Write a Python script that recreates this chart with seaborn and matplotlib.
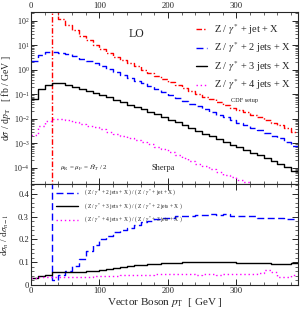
import numpy as np
import pandas as pd
import matplotlib
matplotlib.use("Agg")
import matplotlib.pyplot as plt
from matplotlib.ticker import MultipleLocator, LogLocator, NullFormatter
import seaborn as sns

# =========================
# DATA (10 GeV bins, 0 - 390 GeV)
# =========================

bin_edges = np.arange(0, 400, 10)

# d sigma / d pT  [fb / GeV]
z_1jet = [0, 0, 0, 240, 120, 70.0, 41.7, 25.1, 15.8, 10.5,
          7.24, 5.01, 3.39, 2.51, 1.86, 1.38, 1.02, 0.759, 0.562, 0.427,
          0.316, 0.240, 0.182, 0.135, 0.105, 0.0794, 0.0617, 0.0479, 0.0372, 0.0288,
          0.0229, 0.0182, 0.0145, 0.0115, 0.00912, 0.00708, 0.00537, 0.00407, 0.00282]

z_2jet = [2.19, 4.17, 5.37, 5.50, 5.01, 4.27, 3.55, 2.88, 2.34, 1.86,
          1.45, 1.07, 0.794, 0.603, 0.468, 0.363, 0.282, 0.214, 0.162, 0.126,
          0.0933, 0.0724, 0.0550, 0.0407, 0.0324, 0.0245, 0.0191, 0.0148, 0.0115, 0.00871,
          0.00692, 0.00550, 0.00437, 0.00339, 0.00269, 0.00209, 0.00158, 0.00117, 0.000813]

z_3jet = [0.0661, 0.158, 0.242, 0.302, 0.286, 0.247, 0.206, 0.170, 0.143, 0.117,
          0.0955, 0.0750, 0.0587, 0.0470, 0.0384, 0.0312, 0.0251, 0.0197, 0.0152, 0.0121,
          0.00906, 0.00710, 0.00545, 0.00407, 0.00324, 0.00245, 0.00192, 0.00148, 0.00114, 0.000863,
          0.000678, 0.000533, 0.000419, 0.000325, 0.000256, 0.000188, 0.000143, 0.000110, 0.0000780]

z_4jet = [0.00211, 0.00524, 0.00820, 0.00998, 0.0100, 0.00889, 0.00740, 0.00630, 0.00528, 0.00446,
          0.00372, 0.00300, 0.00241, 0.00197, 0.00165, 0.00137, 0.00113, 0.000906, 0.000716, 0.000568,
          0.000435, 0.000340, 0.000256, 0.000195, 0.000149, 0.000115, 0.0000923, 0.0000681, 0.0000535, 0.0000414,
          0.0000318, 0.0000261, 0.0000201, 0.0000169, 0.0000164, 0.0000109, 0.00000527, 0.00000397, 0.00000351]

top_labels = [r"Z / $\gamma^{*}$ + jet + X",
              r"Z / $\gamma^{*}$ + 2 jets + X",
              r"Z / $\gamma^{*}$ + 3 jets + X",
              r"Z / $\gamma^{*}$ + 4 jets + X"]

ratio_labels = [r"( Z / $\gamma^{*}$ + 2 jets + X ) / ( Z / $\gamma^{*}$ + jet + X )",
                r"( Z / $\gamma^{*}$ + 3 jets + X ) / ( Z / $\gamma^{*}$ + 2 jets + X )",
                r"( Z / $\gamma^{*}$ + 4 jets + X ) / ( Z / $\gamma^{*}$ + 3 jets + X )"]

colors = ["#ff0000", "#0000ff", "#000000", "#ff00ff"]
styles = [(0, (4, 1.5, 1, 1.5)), (0, (5, 2.5)), "-", (0, (1, 2))]

# =========================
# RATIOS n / n-1
# =========================

hists = [np.array(h, dtype=float) for h in (z_1jet, z_2jet, z_3jet, z_4jet)]
ratios = []
for lo, hi in zip(hists[:-1], hists[1:]):
    r = np.divide(hi, lo, out=np.full(len(hi), np.inf), where=lo > 0)
    ratios.append(np.clip(r, 0, 1))  # infinite ratio -> off the top of the panel


def step_frame(values):
    # repeat last value so steps-post closes the last bin
    return pd.DataFrame({"pT": bin_edges, "val": np.append(values, values[-1])})


# =========================
# STYLE
# =========================

sns.set_style("ticks")
plt.rcParams["font.family"] = ["Liberation Serif", "DejaVu Serif"]
plt.rcParams["mathtext.fontset"] = "stix"

fig = plt.figure(figsize=(3.01, 3.10), dpi=100)
ax1 = fig.add_axes([0.103, 0.4065, 0.887, 0.555])
ax2 = fig.add_axes([0.103, 0.0806, 0.887, 0.326])

# =========================
# TOP PANEL
# =========================

for h, lab, c, ls in zip(hists, top_labels, colors, styles):
    sns.lineplot(data=step_frame(h), x="pT", y="val", ax=ax1, color=c,
                 linestyle=ls, lw=1.0, drawstyle="steps-post", label=lab,
                 estimator=None)

ax1.set_yscale("log")
ax1.set_xlim(0, 390)
ax1.set_ylim(2.2e-5, 2.3e2)
ax1.set_xlabel("")
ax1.set_ylabel(r"d$\sigma$ / d$p_{\rm T}$   [ fb / GeV ]", fontsize=7)
ax1.yaxis.set_label_coords(-0.067, 0.5)
ax1.xaxis.set_major_locator(MultipleLocator(100))
ax1.xaxis.set_minor_locator(MultipleLocator(20))
ax1.yaxis.set_major_locator(LogLocator(base=10, numticks=20))
ax1.yaxis.set_minor_locator(LogLocator(base=10, subs=np.arange(2, 10), numticks=20))
ax1.yaxis.set_minor_formatter(NullFormatter())
ax1.tick_params(which="both", direction="in", top=True, right=True,
                labeltop=True, labelbottom=False, labelsize=6.2, pad=1.5)
ax1.tick_params(axis="y", labelsize=5.8, pad=1.2)
ax1.tick_params(which="major", length=4, width=0.7)
ax1.tick_params(which="minor", length=2, width=0.5)

ax1.legend(loc="upper right", bbox_to_anchor=(1.0, 0.985), frameon=False,
           fontsize=7.5, handlelength=1.1, handletextpad=0.6, labelspacing=0.35,
           borderaxespad=0.3)

ax1.text(0.395, 0.87, "LO", transform=ax1.transAxes, fontsize=8.5, ha="center", va="center")
ax1.text(0.80, 0.488, "CDF setup", transform=ax1.transAxes, fontsize=4.5, ha="center", va="center")
ax1.text(0.495, 0.093, "Sherpa", transform=ax1.transAxes, fontsize=6, ha="center", va="center")
ax1.text(0.11, 0.093, r"$\mu_{\rm R}$ = $\mu_{\rm F}$ = $\hat{H}_T$ / 2",
         transform=ax1.transAxes, fontsize=5, ha="left", va="center")

# =========================
# RATIO PANEL
# =========================

for r, lab, c, ls in zip(ratios, ratio_labels, colors[1:], styles[1:]):
    sns.lineplot(data=step_frame(r), x="pT", y="val", ax=ax2, color=c,
                 linestyle=ls, lw=1.0, drawstyle="steps-post", label=lab,
                 estimator=None)

ax2.set_xlim(0, 390)
ax2.set_ylim(0, 0.443)
ax2.set_xlabel(r"Vector Boson $p_{\rm T}$  [ GeV ]", fontsize=8, labelpad=1)
ax2.set_ylabel(r"d$\sigma_n$ / d$\sigma_{n-1}$", fontsize=6.5)
ax2.yaxis.set_label_coords(-0.075, 0.5)
ax2.xaxis.set_major_locator(MultipleLocator(100))
ax2.xaxis.set_minor_locator(MultipleLocator(20))
ax2.yaxis.set_major_locator(MultipleLocator(0.1))
ax2.yaxis.set_minor_locator(MultipleLocator(0.02))
ax2.yaxis.set_major_formatter(lambda v, p: "0" if v == 0 else f"{v:.1f}")
ax2.tick_params(which="both", direction="in", top=True, right=True, labelsize=6.2, pad=1.5)
ax2.tick_params(which="major", length=4, width=0.7)
ax2.tick_params(which="minor", length=2, width=0.5)

ax2.legend(loc="upper left", bbox_to_anchor=(0.08, 1.0), frameon=False,
           fontsize=4, handlelength=4.0, handletextpad=1.0, labelspacing=0.6,
           borderaxespad=0.3)

for a in (ax1, ax2):
    for s in a.spines.values():
        s.set_linewidth(0.8)

fig.savefig("out.png", dpi=100)
